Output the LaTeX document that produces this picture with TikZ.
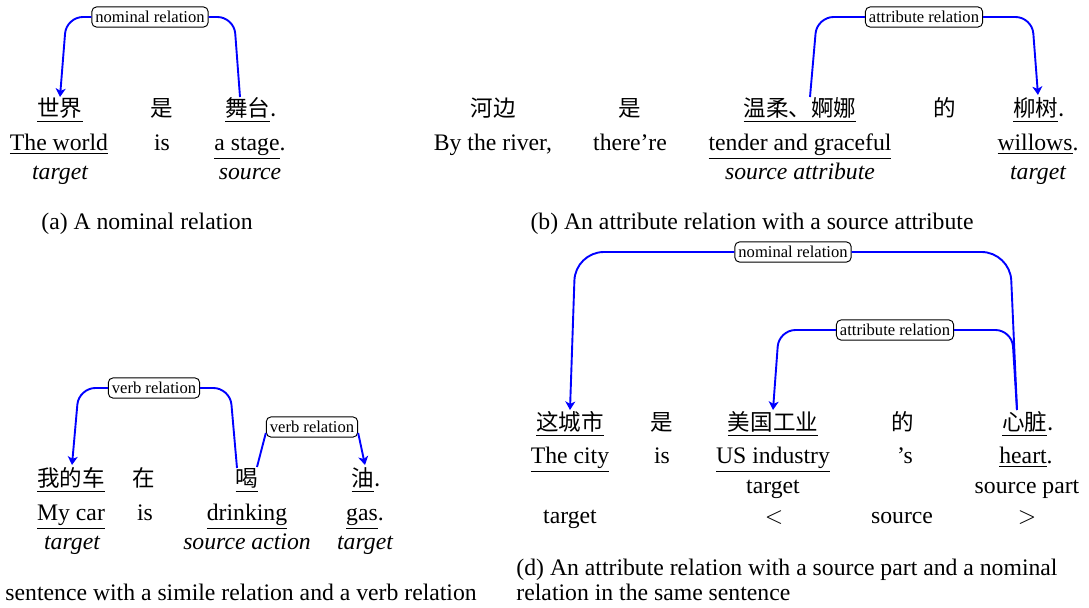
\documentclass[tikz,border=0pt]{standalone}
\usepackage{fontspec}
\setmainfont{Liberation Serif}
\newfontfamily\cjk{Noto Sans CJK SC}
\usetikzlibrary{arrows.meta,calc}

\begin{document}
\begin{tikzpicture}[
        x=0.4219pt, y=-0.4219pt,
        every node/.style={inner sep=0pt, anchor=base},
        zh/.style={font=\cjk\fontsize{9.5}{11}\selectfont},
        role/.style={font=\itshape},
        relation/.style={draw, rounded corners=2pt, fill=white, anchor=center, inner xsep=1.5pt, inner ysep=1.8pt, font=\fontsize{7}{8}\selectfont},
        link/.style={draw=blue, thick, rounded corners=7pt, >={Stealth[length=3.6pt,width=4.2pt,inset=1pt]}}
    ]
    \useasboundingbox (0,0) rectangle (1089,608);

    % (a) nominal relation
    \node[zh] (worldZh) at (60,116) {\underline{世界}};
    \node[zh] (isZhA) at (162,116) {是};
    \node[zh] (stageZh) at (251,116) {\underline{舞台}.};
    \node (worldEn) at (59,150) {\underline{The world}};
    \node (isEnA) at (162,150) {is};
    \node (stageEn) at (250,150) {\underline{a stage}.};
    \node[role] (targetA) at (60,179) {target};
    \node[role] (sourceA) at (250,179) {source};
    \node (capA) at (147,229) {(a) A nominal relation};

    \node[relation] (nomA) at (150,17) {nominal relation};
    \draw[link,->] (nomA.west) -- ++(-25,0) -- ($(worldZh.base)+(0,-19)$);
    \draw[link] ($(stageZh.base)+(-11,-19)$) -- ++(-6,-80) -- (nomA.east);

    % (b) attribute relation
    \node[zh] (riverZh) at (493,116) {河边};
    \node[zh] (isZhB) at (630,116) {是};
    \node[zh] (tenderZh) at (800,116) {\underline{温柔、婀娜}};
    \node[zh] (deZhB) at (945,116) {的};
    \node[zh] (willowZh) at (1039,116) {\underline{柳树}.};
    \node (riverEn) at (493,150) {By the river,};
    \node (isEnB) at (630,150) {there’re};
    \node (tenderEn) at (800,150) {\underline{tender and graceful}};
    \node (willowEn) at (1038,150) {\underline{willows}.};
    \node[role] (sourceB) at (800,179) {source attribute};
    \node[role] (targetB) at (1038,179) {target};
    \node (capB) at (752,229) {(b) An attribute relation with a source attribute};

    \node[relation] (attrB) at (924,17) {attribute relation};
    \draw[link] ($(tenderZh.base)+(10,-19)$) -- ++(7,-80) -- (attrB.west);
    \draw[link,->] (attrB.east) -- ++(49,0) -- ($(willowZh.base)+(-1,-21)$);

    % (c) verb relations
    \node[zh] (carZh) at (71,486) {\underline{我的车}};
    \node[zh] (atZh) at (144,486) {在};
    \node[zh] (drinkZh) at (247,486) {\underline{喝}};
    \node[zh] (oilZh) at (366,486) {\underline{油}.};
    \node (carEn) at (71,520) {\underline{My car}};
    \node (isEnC) at (145,520) {is};
    \node (drinkEn) at (247,520) {\underline{drinking}};
    \node (oilEn) at (365,520) {\underline{gas}.};
    \node[role] (targetC1) at (72,549) {target};
    \node[role] (sourceC) at (247,549) {source action};
    \node[role] (targetC2) at (365,549) {target};
    \node[anchor=base west] (capC) at (5,600) {sentence with a simile relation and a verb relation};

    \node[relation] (verbC1) at (154,388) {verb relation};
    \node[relation] (verbC2) at (312,427) {verb relation};
    \draw[link,->] (verbC1.west) -- ++(-29,0) -- ($(carZh.base)+(1,-21)$);
    \draw[link] ($(drinkZh.base)+(-10,-18)$) -- ++(-7,-80) -- (verbC1.east);
    \draw[link] ($(drinkZh.base)+(10,-19)$) -- ($(verbC2.west)+(0,6)$);
    \draw[link,->] ($(verbC2.east)+(0,6)$) -- ($(oilZh.base)+(-1,-21)$);

    % (d) source part and nominal relation
    \node[zh] (cityZh) at (570,430) {\underline{这城市}};
    \node[zh] (isZhD) at (662,430) {是};
    \node[zh] (industryZh) at (773,430) {\underline{美国工业}};
    \node[zh] (deZhD) at (903,430) {的};
    \node[zh] (heartZh) at (1028,430) {\underline{心脏}.};
    \node (cityEn) at (570,463) {\underline{The city}};
    \node (isEnD) at (662,463) {is};
    \node (industryEn) at (773,463) {\underline{US industry}};
    \node (possEn) at (905,463) {’s};
    \node (heartEn) at (1026,463) {\underline{heart}.};
    \node (targetD1) at (773,493) {target};
    \node (partD) at (1027,493) {source part};
    \node (targetD2) at (570,523) {target};
    \node (ltD) at (774,523) {$<$};
    \node (sourceD) at (902,523) {source};
    \node (gtD) at (1027,523) {$>$};
    \node[anchor=base west] (capD) at (516,575) {(d) An attribute relation with a source part and a nominal};
    \node[anchor=base west] (capD2) at (516,600) {relation in the same sentence};

    \node[relation] (nomD) at (793,252) {nominal relation};
    \node[relation] (attrD) at (895,330) {attribute relation};
    \draw[link,->,rounded corners=12pt] (nomD.west) -- ++(-159,0) -- ($(cityZh.base)+(0,-20)$);
    \draw[link,rounded corners=12pt] ($(heartZh.base)+(-11,-20)$) -- ++(-7,-158) -- (nomD.east);
    \draw[link,->] (attrD.west) -- ++(-57,0) -- ($(industryZh.base)+(0,-20)$);
    \draw[link] ($(heartZh.base)+(-11,-20)$) -- ++(-5,-80) -- (attrD.east);

\end{tikzpicture}
\end{document}
